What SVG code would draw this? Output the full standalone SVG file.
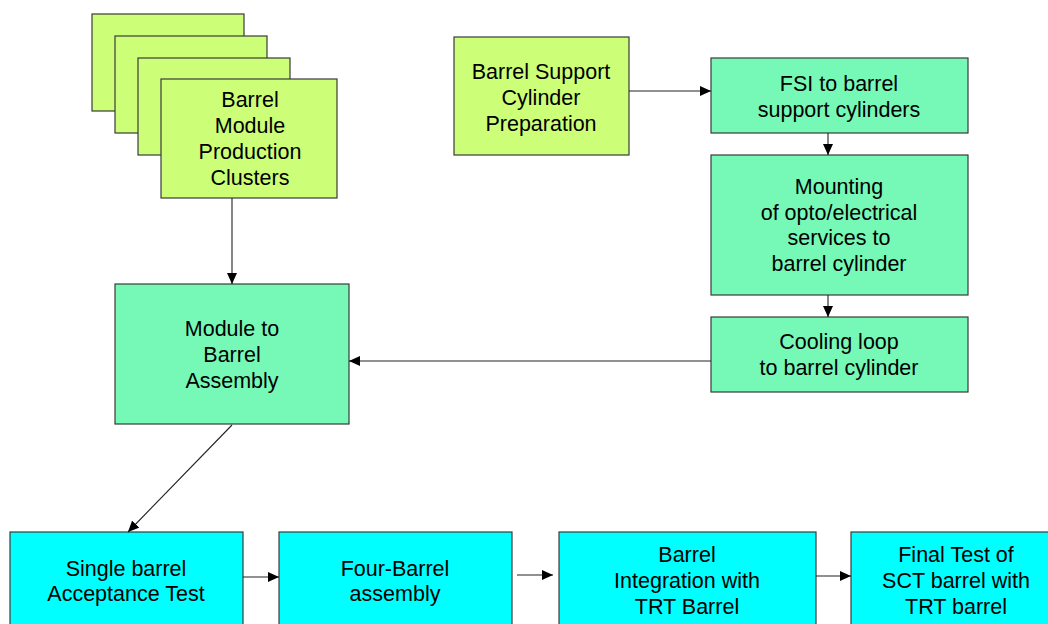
<svg xmlns="http://www.w3.org/2000/svg" width="1048" height="624" viewBox="0 0 1048 624">
<style>
.box{stroke:#3a3a3a;stroke-width:1.2}
.lg{fill:#ccff77}
.mg{fill:#76f9b6}
.cy{fill:#00ffff}
text{font-family:"Liberation Sans",Arial,sans-serif;font-size:21.5px;fill:#000;text-anchor:middle}
.c{stroke:#222;stroke-width:1.1;fill:none;marker-end:url(#ah)}
</style>
<defs>
<marker id="ah" markerUnits="userSpaceOnUse" markerWidth="12" markerHeight="10" refX="11" refY="5" orient="auto">
<path d="M0,0 L11,5 L0,10 z" fill="#000"/>
</marker>
</defs>
<rect width="1048" height="624" fill="#fff"/>
<g id="clusters">
<rect class="box lg" x="92" y="14" width="152" height="97"/>
<rect class="box lg" x="115" y="36" width="152" height="97"/>
<rect class="box lg" x="138" y="58" width="152" height="97"/>
<rect class="box lg" x="161" y="79" width="176" height="119"/>
<text x="250" y="107">Barrel</text>
<text x="250" y="133">Module</text>
<text x="250" y="159">Production</text>
<text x="250" y="185">Clusters</text>
</g>
<g id="support">
<rect class="box lg" x="454" y="37" width="175" height="118"/>
<text x="541" y="79">Barrel Support</text>
<text x="541" y="105">Cylinder</text>
<text x="541" y="131">Preparation</text>
</g>
<g id="fsi">
<rect class="box mg" x="711" y="58" width="257" height="75"/>
<text x="839" y="91">FSI to barrel</text>
<text x="839" y="117">support cylinders</text>
</g>
<g id="mounting">
<rect class="box mg" x="711" y="155" width="257" height="140"/>
<text x="839" y="194">Mounting</text>
<text x="839" y="220">of opto/electrical</text>
<text x="839" y="245">services to</text>
<text x="839" y="271">barrel cylinder</text>
</g>
<g id="cooling">
<rect class="box mg" x="711" y="317" width="257" height="75"/>
<text x="839" y="349">Cooling loop</text>
<text x="839" y="375">to barrel cylinder</text>
</g>
<g id="module">
<rect class="box mg" x="115" y="284" width="234" height="140"/>
<text x="232" y="336">Module to</text>
<text x="232" y="362">Barrel</text>
<text x="232" y="388">Assembly</text>
</g>
<g id="single">
<rect class="box cy" x="10" y="532" width="233" height="100"/>
<text x="126" y="576">Single barrel</text>
<text x="126" y="601">Acceptance Test</text>
</g>
<g id="four">
<rect class="box cy" x="279" y="532" width="233" height="100"/>
<text x="395" y="576">Four-Barrel</text>
<text x="395" y="601">assembly</text>
</g>
<g id="integration">
<rect class="box cy" x="559" y="532" width="257" height="100"/>
<text x="687" y="562">Barrel</text>
<text x="687" y="588">Integration with</text>
<text x="687" y="614">TRT Barrel</text>
</g>
<g id="final">
<rect class="box cy" x="851" y="532" width="210" height="100"/>
<text x="956" y="562">Final Test of</text>
<text x="956" y="588">SCT barrel with</text>
<text x="956" y="614">TRT barrel</text>
</g>
<g id="connectors">
<path class="c" d="M232,198 L232,284"/>
<path class="c" d="M629,91 L711,91"/>
<path class="c" d="M828,133 L828,155"/>
<path class="c" d="M828,295 L828,317"/>
<path class="c" d="M711,361 L349,361"/>
<path class="c" d="M232,425 L128,532"/>
<path class="c" d="M243,577 L279,577"/>
<path class="c" d="M517,575 L553,575"/>
<path class="c" d="M816,576 L851,576"/>
</g>
</svg>
